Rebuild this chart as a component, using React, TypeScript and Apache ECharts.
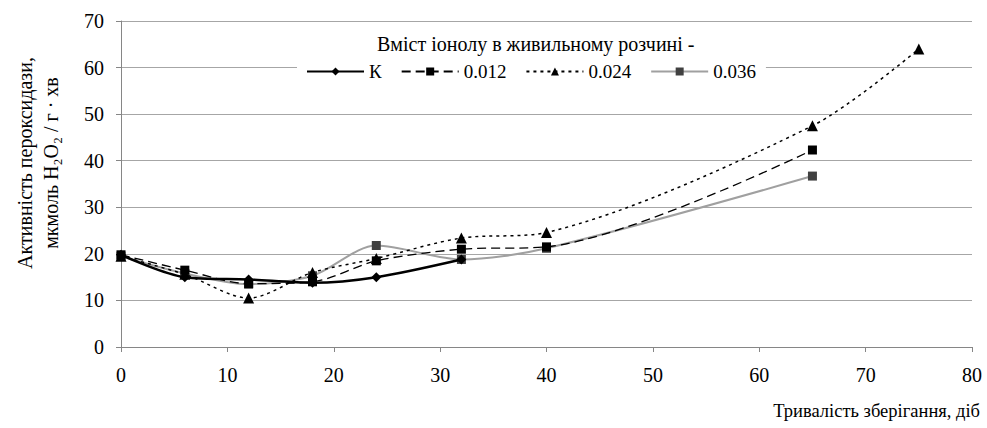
import React, { useEffect, useRef } from "react";
import * as echarts from "echarts";

const days = [0, 6, 12, 18, 24, 32, 40, 65, 75];
const seriesNames = ["К", "0.012", "0.024", "0.036"];
const valuesK = [19.8, 15.0, 14.5, 13.8, 15.0, 18.8];
const values012 = [19.8, 16.5, 13.6, 14.0, 18.5, 21.0, 21.5, 42.3];
const values024 = [19.5, 15.6, 10.5, 16.0, 19.0, 23.4, 24.6, 47.5, 64.0];
const values036 = [19.5, 15.8, 13.5, 15.3, 21.8, 18.8, 21.2, 36.7];
const yTicks = [0, 10, 20, 30, 40, 50, 60, 70];
const xTicks = [0, 10, 20, 30, 40, 50, 60, 70, 80];

const FONT = "'Liberation Serif', 'Times New Roman', serif";

function pairs(vals: number[]) {
  return vals.map((v, i) => [days[i], v]);
}

export default function App() {
  const ref = useRef<HTMLDivElement>(null);
  useEffect(() => {
    if (!ref.current) return;
    const chart = echarts.init(ref.current, undefined, { renderer: "svg" });
    const common = { type: "line", smooth: 0.3, symbolKeepAspect: true };
    chart.setOption({
      animation: false,
      backgroundColor: "#fff",
      textStyle: { fontFamily: FONT, color: "#000" },
      grid: { left: 121, right: 15, top: 21, bottom: 81 },
      xAxis: {
        type: "value",
        min: xTicks[0],
        max: xTicks[xTicks.length - 1],
        interval: 10,
        axisLine: { lineStyle: { color: "#868686", width: 1 } },
        axisTick: { show: true, length: 5, lineStyle: { color: "#868686" } },
        axisLabel: { fontFamily: FONT, fontSize: 20, color: "#000", margin: 18 },
        splitLine: { show: false },
      },
      yAxis: {
        type: "value",
        min: yTicks[0],
        max: yTicks[yTicks.length - 1],
        interval: 10,
        axisLine: { show: true, lineStyle: { color: "#868686", width: 1 } },
        axisTick: { show: true, length: 5, lineStyle: { color: "#868686" } },
        axisLabel: { fontFamily: FONT, fontSize: 20, color: "#000", margin: 17 },
        splitLine: { show: true, lineStyle: { color: "#a6a6a6", width: 1 } },
      },
      legend: {
        data: seriesNames,
        left: 297,
        top: 60,
        width: 480,
        padding: [2, 10, 2, 9],
        backgroundColor: "#fff",
        itemWidth: 57,
        itemHeight: 10,
        itemGap: 19,
        textStyle: { fontFamily: FONT, fontSize: 19, color: "#000" },
      },
      graphic: [
        {
          type: "text",
          left: 377,
          top: 34,
          style: { text: "Вміст іонолу в живильному розчині -", fontFamily: FONT, fontSize: 20, fill: "#000" },
        },
        {
          type: "text",
          x: 12,
          y: 163,
          rotation: Math.PI / 2,
          style: {
            text: "Активність пероксидази,\nмкмоль H₂O₂ / г · хв",
            fontFamily: FONT,
            fontSize: 20,
            fill: "#000",
            align: "center",
            verticalAlign: "top",
            lineHeight: 26,
          },
        },
        {
          type: "text",
          right: 7,
          top: 401,
          style: { text: "Тривалість зберігання, діб", fontFamily: FONT, fontSize: 18.5, fill: "#000" },
        },
      ],
      series: [
        {
          ...common,
          name: seriesNames[0],
          data: pairs(valuesK),
          symbol: "diamond",
          symbolSize: 10,
          itemStyle: { color: "#000" },
          lineStyle: { color: "#000", width: 2.5 },
          z: 4,
        },
        {
          ...common,
          name: seriesNames[1],
          data: pairs(values012),
          symbol: "rect",
          symbolSize: 9,
          itemStyle: { color: "#000" },
          lineStyle: { color: "#000", width: 1.3, type: [9, 5] },
          z: 3,
        },
        {
          ...common,
          name: seriesNames[2],
          data: pairs(values024),
          symbol: "triangle",
          symbolSize: 11,
          itemStyle: { color: "#000" },
          lineStyle: { color: "#000", width: 1.5, type: [3, 4] },
          z: 3,
        },
        {
          ...common,
          name: seriesNames[3],
          data: pairs(values036),
          symbol: "rect",
          symbolSize: 9,
          itemStyle: { color: "#404040" },
          lineStyle: { color: "#a0a0a0", width: 2 },
          z: 2,
        },
      ],
    });
    return () => chart.dispose();
  }, []);
  return <div ref={ref} style={{ width: 987, height: 428, position: "absolute", left: 0, top: 0 }} />;
}
